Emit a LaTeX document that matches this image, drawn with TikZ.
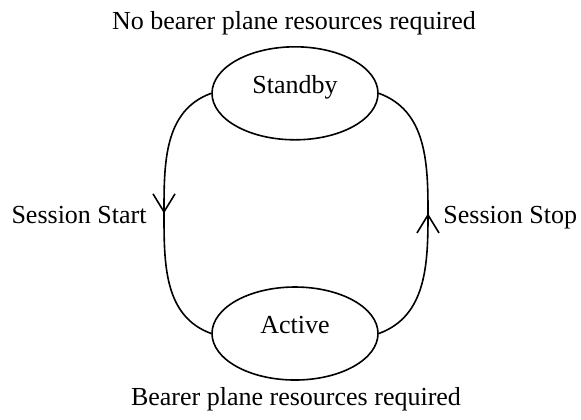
\documentclass[tikz,border=0pt]{standalone}
\usepackage{fontspec}
\setmainfont{Liberation Serif}
\usetikzlibrary{shapes.geometric,arrows.meta,decorations.markings}
\begin{document}
\begin{tikzpicture}
			[x=0.5pt,y=0.5pt,font=\fontsize{13}{16}\selectfont,
			state/.style={ellipse,draw,line width=0.8pt,minimum width=83pt,minimum height=46.5pt,inner sep=0pt,text height=0pt,text depth=0pt},
			flow/.style={line width=0.8pt,postaction={decorate},decoration={markings,mark=at position 0.5 with {\arrow{Straight Barb[length=9pt,width=11pt,line width=0.8pt]}}}}]
			\useasboundingbox(0,0) rectangle (581,-419);
			\node[state,name=sb]at(295,-93.3){Standby};
			\node[state,name=ac]at(295,-333.5){Active};
			\node[name=none,anchor=base]at(294,-29.5){No bearer plane resources required};
			\node[name=need,anchor=base]at(296,-405){Bearer plane resources required};
			\node[name=start,anchor=base east,inner sep=0pt]at(147,-223){Session Start};
			\node[name=stop,anchor=base west,inner sep=0pt]at(443,-223){Session Stop};
			\coordinate(lmid)at(164,-213.5);
			\coordinate(rmid)at(428,-213.5);
			\draw[flow](sb.west) to[out=200,in=90](lmid) to[out=-90,in=160](ac.west);
			\draw[flow](ac.east) to[out=20,in=-90](rmid) to[out=90,in=-20](sb.east);
		\end{tikzpicture}
\end{document}
